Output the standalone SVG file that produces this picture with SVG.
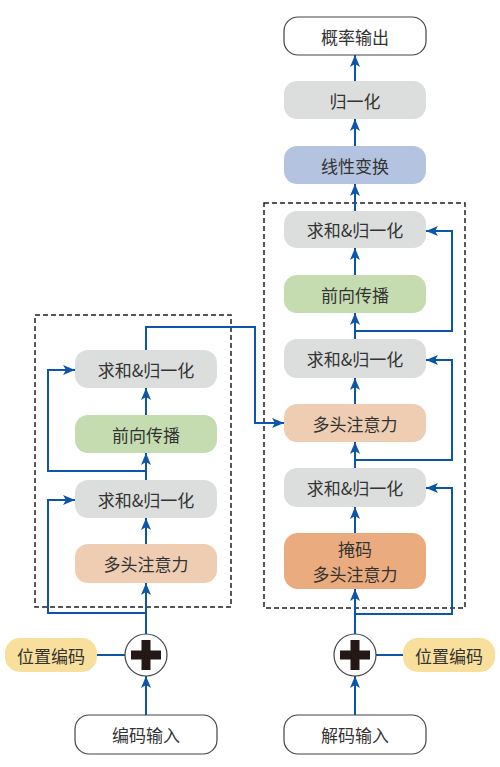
<svg xmlns="http://www.w3.org/2000/svg" width="500" height="767" viewBox="0 0 500 767">
<defs>
<style>
.t{font-family:"Noto Sans CJK SC","Liberation Serif",serif;font-size:17px;fill:#333;text-anchor:middle;dominant-baseline:central}
.c{fill:none;stroke:#0d55a8;stroke-width:2}
.dash{fill:none;stroke:#222;stroke-width:1.5;stroke-dasharray:5,3}
.gray{fill:#dcdddd}
.green{fill:#c4dcb0}
.peach{fill:#eecdb3}
.orange{fill:#eaab7e}
.blue{fill:#b3c3e0}
.yellow{fill:#f8df9c}
.white{fill:#fff;stroke:#444;stroke-width:1.2}
</style>
<marker id="a" viewBox="0 0 12 10" refX="12" refY="5" markerWidth="12" markerHeight="10" markerUnits="userSpaceOnUse" orient="auto">
<path d="M0,0 L12,5 L0,10 L3,5 Z" fill="#0d55a8"/>
</marker>
</defs>
<rect class="dash" x="35" y="315" width="196" height="292"/>
<rect class="dash" x="264" y="203" width="201" height="405"/>
<g id="connectors">
<path class="c" d="M146,634 V583" marker-end="url(#a)"/>
<path class="c" d="M146,613 H48 V500 H75" marker-end="url(#a)"/>
<path class="c" d="M146,544 V518" marker-end="url(#a)"/>
<path class="c" d="M146,480 V453" marker-end="url(#a)"/>
<path class="c" d="M146,471 H48 V370 H75" marker-end="url(#a)"/>
<path class="c" d="M146,415 V388" marker-end="url(#a)"/>
<path class="c" d="M146,350 V327 H255 V423 H284" marker-end="url(#a)"/>
<path class="c" d="M146,715 V676" marker-end="url(#a)"/>
<path class="c" d="M97,655 H125"/>
<path class="c" d="M355,634 V589" marker-end="url(#a)"/>
<path class="c" d="M355,614 H452 V488 H426" marker-end="url(#a)"/>
<path class="c" d="M355,533 V507" marker-end="url(#a)"/>
<path class="c" d="M355,468 V442" marker-end="url(#a)"/>
<path class="c" d="M355,460 H452 V360 H426" marker-end="url(#a)"/>
<path class="c" d="M355,404 V378" marker-end="url(#a)"/>
<path class="c" d="M355,339 V313" marker-end="url(#a)"/>
<path class="c" d="M355,331 H452 V231 H426" marker-end="url(#a)"/>
<path class="c" d="M355,275 V248" marker-end="url(#a)"/>
<path class="c" d="M355,211 V184" marker-end="url(#a)"/>
<path class="c" d="M355,146 V119" marker-end="url(#a)"/>
<path class="c" d="M355,81 V55" marker-end="url(#a)"/>
<path class="c" d="M355,715 V676" marker-end="url(#a)"/>
<path class="c" d="M376,655 H403"/>
</g>
<g id="enc_add_norm2"><rect class="gray" x="75" y="350" width="142" height="38" rx="13"/><text class="t" x="146" y="369">求和&amp;归一化</text></g>
<g id="enc_ffn"><rect class="green" x="75" y="415" width="142" height="38" rx="13"/><text class="t" x="146" y="434">前向传播</text></g>
<g id="enc_add_norm1"><rect class="gray" x="75" y="480" width="142" height="38" rx="13"/><text class="t" x="146" y="499">求和&amp;归一化</text></g>
<g id="enc_mha"><rect class="peach" x="75" y="544" width="142" height="39" rx="13"/><text class="t" x="146" y="563.5">多头注意力</text></g>
<g id="enc_plus"><circle cx="146" cy="655" r="21" fill="#fff" stroke="#444" stroke-width="1.2"/><path d="M146,640 V670 M131,655 H161" stroke="#231815" stroke-width="9"/></g>
<g id="enc_pos"><rect class="yellow" x="5" y="638" width="92" height="34" rx="15"/><text class="t" x="51" y="655">位置编码</text></g>
<g id="enc_input"><rect class="white" x="75" y="715" width="142" height="39" rx="14"/><text class="t" x="146" y="734.5">编码输入</text></g>
<g id="dec_add_norm3"><rect class="gray" x="284" y="211" width="142" height="37" rx="13"/><text class="t" x="355" y="229.5">求和&amp;归一化</text></g>
<g id="dec_ffn"><rect class="green" x="284" y="275" width="142" height="38" rx="13"/><text class="t" x="355" y="294">前向传播</text></g>
<g id="dec_add_norm2"><rect class="gray" x="284" y="339" width="142" height="39" rx="13"/><text class="t" x="355" y="358.5">求和&amp;归一化</text></g>
<g id="dec_mha"><rect class="peach" x="284" y="404" width="142" height="38" rx="13"/><text class="t" x="355" y="423">多头注意力</text></g>
<g id="dec_add_norm1"><rect class="gray" x="284" y="468" width="142" height="39" rx="13"/><text class="t" x="355" y="487.5">求和&amp;归一化</text></g>
<g id="dec_masked"><rect class="orange" x="284" y="533" width="142" height="56" rx="14"/><text class="t" x="355" y="548">掩码</text><text class="t" x="355" y="573">多头注意力</text></g>
<g id="dec_plus"><circle cx="355" cy="655" r="21" fill="#fff" stroke="#444" stroke-width="1.2"/><path d="M355,640 V670 M340,655 H370" stroke="#231815" stroke-width="9"/></g>
<g id="dec_pos"><rect class="yellow" x="403" y="638" width="92" height="34" rx="15"/><text class="t" x="449" y="655">位置编码</text></g>
<g id="dec_input"><rect class="white" x="284" y="715" width="142" height="39" rx="14"/><text class="t" x="355" y="734.5">解码输入</text></g>
<g id="linear"><rect class="blue" x="284" y="146" width="142" height="38" rx="13"/><text class="t" x="355" y="165">线性变换</text></g>
<g id="norm"><rect class="gray" x="284" y="81" width="142" height="38" rx="13"/><text class="t" x="355" y="100">归一化</text></g>
<g id="output"><rect class="white" x="284" y="17" width="142" height="38" rx="14"/><text class="t" x="355" y="36">概率输出</text></g>
</svg>
